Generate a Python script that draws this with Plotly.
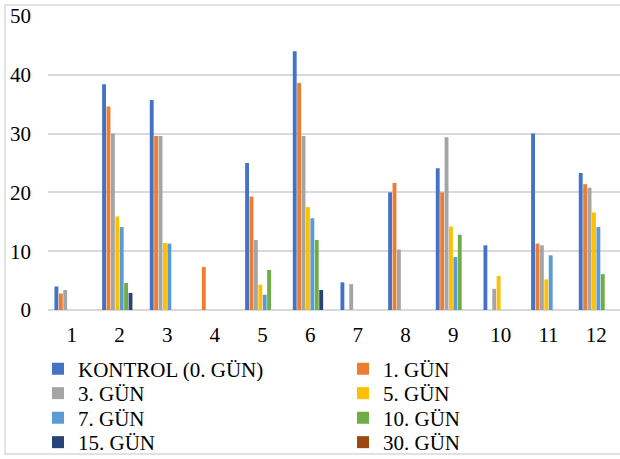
import plotly.graph_objects as go

# Sample numbers 1..12 on the category axis
categories = list(range(1, 13))
tick_labels = [str(c) for c in categories]

series_names = ["KONTROL (0. GÜN)", "1. GÜN", "3. GÜN", "5. GÜN",
                "7. GÜN", "10. GÜN", "15. GÜN", "30. GÜN"]

kontrol = [4.0, 38.4, 35.7, None, 25.0, 44.0, 4.7, 20.0, 24.1, 11.0, 30.0, 23.3]
gun_1 = [2.8, 34.6, 29.6, 7.3, 19.3, 38.6, None, 21.6, 20.0, None, 11.3, 21.4]
gun_3 = [3.4, 30.0, 29.6, None, 11.9, 29.6, 4.4, 10.3, 29.4, 3.6, 11.0, 20.8]
gun_5 = [None, 15.9, 11.4, None, 4.3, 17.5, None, None, 14.2, 5.8, 5.2, 16.6]
gun_7 = [None, 14.1, 11.3, None, 2.6, 15.6, None, None, 9.0, None, 9.3, 14.1]
gun_10 = [None, 4.6, None, None, 6.8, 11.9, None, None, 12.8, None, None, 6.1]
gun_15 = [None, 2.9, None, None, None, 3.4, None, None, None, None, None, None]
gun_30 = [None] * 12

values = [kontrol, gun_1, gun_3, gun_5, gun_7, gun_10, gun_15, gun_30]
colors = ["#4472C4", "#ED7D31", "#A5A5A5", "#FFC000",
          "#5B9BD5", "#70AD47", "#264478", "#9E480E"]

W, H = 620, 459
ML, MR, MT, MB = 48, 0, 15.5, 148.5
plot_w = W - ML - MR
plot_h = H - MT - MB

def px_to_paper_x(px):
    return (px - ML) / plot_w

def px_to_paper_y(py):
    return (H - MB - py) / plot_h

font_family = "Liberation Serif"
font_size = 21

fig = go.Figure()

# Legend entries laid out in two columns, one legend box per entry,
# placed in container coordinates so they don't shrink the plot area
legend_cols = [38, 343]
legend_rows = [369, 393.5, 418, 442.5]
legend_layouts = {}
for i, (name, vals, col) in enumerate(zip(series_names, values, colors)):
    key = "legend" if i == 0 else f"legend{i + 1}"
    fig.add_trace(go.Bar(
        x=categories, y=vals, name=name,
        marker=dict(color=col, line=dict(width=0)),
        legend=key,
    ))
    legend_layouts[key] = dict(
        xref="container", yref="container",
        x=legend_cols[i % 2] / W, xanchor="left",
        y=1 - legend_rows[i // 2] / H, yanchor="middle",
        orientation="h", bgcolor="rgba(0,0,0,0)", borderwidth=0,
        font=dict(family=font_family, size=font_size, color="#000000"),
        itemclick=False, itemdoubleclick=False,
    )

grid_color = "#D9D9D9"

fig.update_layout(
    width=W, height=H,
    margin=dict(l=ML, r=MR, t=MT, b=MB, pad=0, autoexpand=False),
    paper_bgcolor="#FFFFFF", plot_bgcolor="#FFFFFF",
    barmode="group", bargap=0.26, bargroupgap=0.12,
    font=dict(family=font_family, size=font_size, color="#000000"),
    showlegend=True,
    xaxis=dict(
        range=[0.5, 12.5], tickmode="array", tickvals=categories,
        ticktext=tick_labels, showgrid=False, zeroline=False,
        showline=False, ticks="", ticklabelstandoff=10,
        tickfont=dict(family=font_family, size=font_size, color="#000000"),
    ),
    yaxis=dict(
        range=[0, 50], dtick=10, tick0=0, showgrid=True,
        gridcolor=grid_color, gridwidth=1.6, zeroline=True,
        zerolinecolor=grid_color, zerolinewidth=1.6, showline=False,
        ticks="", ticklabelstandoff=16,
        tickfont=dict(family=font_family, size=font_size, color="#000000"),
    ),
    shapes=[dict(
        type="rect", xref="paper", yref="paper", layer="below",
        x0=px_to_paper_x(5), x1=1.05,
        y0=px_to_paper_y(455), y1=px_to_paper_y(4.5),
        line=dict(color=grid_color, width=1.5), fillcolor="rgba(0,0,0,0)",
    )],
    **legend_layouts,
)

fig.write_html("out.html")
